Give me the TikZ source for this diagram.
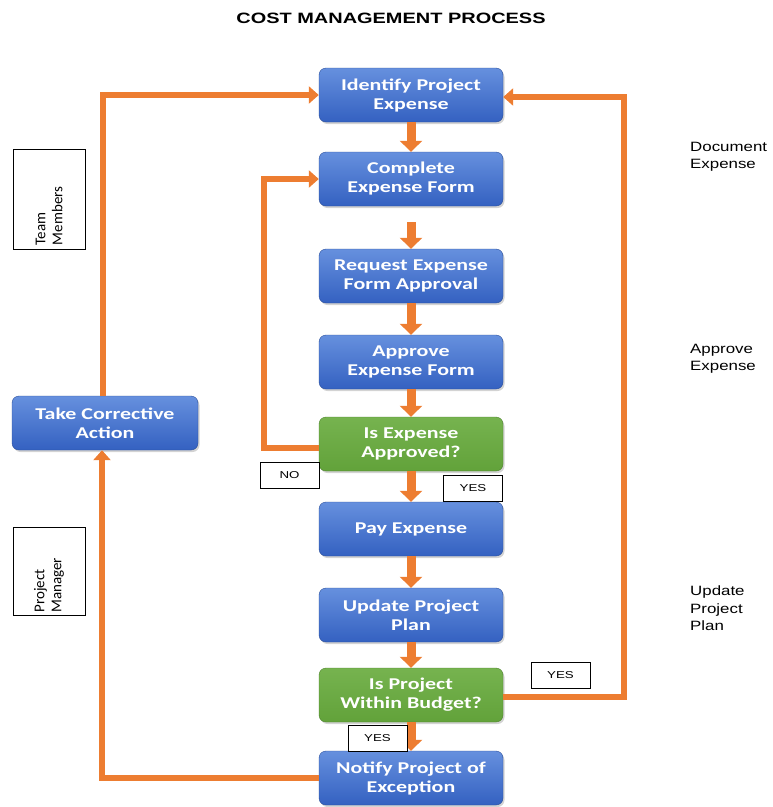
\documentclass[tikz,border=0pt]{standalone}
\usepackage{fontspec}
\setmainfont{Liberation Sans}[FakeStretch=1.33]
\newfontfamily\notefont{Liberation Sans}[FakeStretch=1.25]
\newfontfamily\boxfont{Carlito}[FakeStretch=1.33]
\newfontfamily\rolefont{Carlito}
\usetikzlibrary{arrows.meta,shadows,positioning}
\definecolor{flowor}{HTML}{ED7D31}
\definecolor{bluetop}{HTML}{6690DE}
\definecolor{bluebot}{HTML}{3461C1}
\definecolor{greentop}{HTML}{76B34F}
\definecolor{greenbot}{HTML}{62A23A}
\tikzset{
  procbox/.style={rounded corners=7pt, minimum width=184pt, minimum height=54pt,
    top color=bluetop, bottom color=bluebot, draw=bluebot!80!black, line width=0.4pt,
    text=white, align=center, inner xsep=2pt, font=\boxfont\bfseries\fontsize{16.5}{19}\selectfont,
    drop shadow={opacity=0.35, shadow xshift=1.5pt, shadow yshift=-2pt}},
  decbox/.style={procbox, top color=greentop, bottom color=greenbot, draw=greenbot!80!black},
  tagbox/.style={draw=black, line width=1pt, fill=white, minimum width=59pt, minimum height=26pt,
    font=\fontsize{10}{11}\selectfont, inner sep=0pt},
  rolebox/.style={draw=black, line width=1pt, fill=white, rotate=90, align=left,
    font=\rolefont\fontsize{15}{17}\selectfont},
  sidenote/.style={align=left, anchor=north west, font=\notefont\fontsize{13.5}{17.5}\selectfont, inner sep=0pt},
  stepflow/.style={draw=flowor, line width=9pt,
    -{Triangle[length=11pt 0 0, width=22pt 0 0]}},
  loopflow/.style={draw=flowor, line width=6pt,
    -{Triangle[length=10pt 0 0, width=17pt 0 0]}},
}
\begin{document}
\begin{tikzpicture}[x=1pt,y=-1pt]
\useasboundingbox (0,0) rectangle (773,807);

\node[font=\bfseries\fontsize{15}{17}\selectfont] (title) at (391,18) {COST MANAGEMENT PROCESS};

% main column of steps
\node[procbox] (identify) at (411,95)  {Identify Project\\Expense};
\node[procbox] (complete) at (411,179) {Complete\\Expense Form};
\node[procbox] (request)  at (411,276) {Request Expense\\Form Approval};
\node[procbox] (approve)  at (411,362) {Approve\\Expense Form};
\node[decbox]  (approved) at (411,444) {Is Expense\\Approved?};
\node[procbox] (pay)      at (411,529) {Pay Expense};
\node[procbox] (update)   at (411,615) {Update Project\\Plan};
\node[decbox]  (budget)   at (411,695) {Is Project\\Within Budget?};
\node[procbox] (notify)   at (411,778) {Notify Project of\\Exception};
\node[procbox, minimum width=186pt] (corrective) at (105,423) {Take Corrective\\Action};

% arrows between consecutive steps
\draw[stepflow] (identify) -- (complete);
\draw[stepflow] ([yshift=-16pt]complete.south) -- (request);
\draw[stepflow] (request) -- (approve);
\draw[stepflow] (approve) -- (approved);
\draw[stepflow] (approved) -- (pay);
\draw[stepflow] (pay) -- (update);
\draw[stepflow] (update) -- (budget);
\draw[stepflow] (budget) -- (notify);

% feedback loops
\draw[loopflow] ([yshift=-4pt]approved.west) -- ++(-55,0) |- (complete.west);
\draw[loopflow] ([yshift=-2pt]budget.east) -- ++(121,0) |- ([yshift=-2pt]identify.east);
\draw[loopflow] ([xshift=-2pt]corrective.north) |- (identify.west);
\draw[loopflow] (notify.west) -| ([xshift=-3pt]corrective.south);

% branch labels
\node[tagbox] (no)    at (289.5,475) {NO};
\node[tagbox] (yes1)  at (473,488.5) {YES};
\node[tagbox] (yes2)  at (560.5,675) {YES};
\node[tagbox] (yes3)  at (377.5,738) {YES};

% roles
\node[rolebox, minimum width=100pt, minimum height=72pt, text width=92pt] (team) at (49,199) {Team\\Members};
\node[rolebox, minimum width=87pt, minimum height=72pt, text width=82pt] (pm) at (49,571.5) {Project\\Manager};

% phase notes
\node[sidenote] (doc)  at (690,142) {Document\\Expense};
\node[sidenote] (appr) at (690,344) {Approve\\Expense};
\node[sidenote] (upd)  at (690,586) {Update\\Project\\Plan};
\end{tikzpicture}
\end{document}
